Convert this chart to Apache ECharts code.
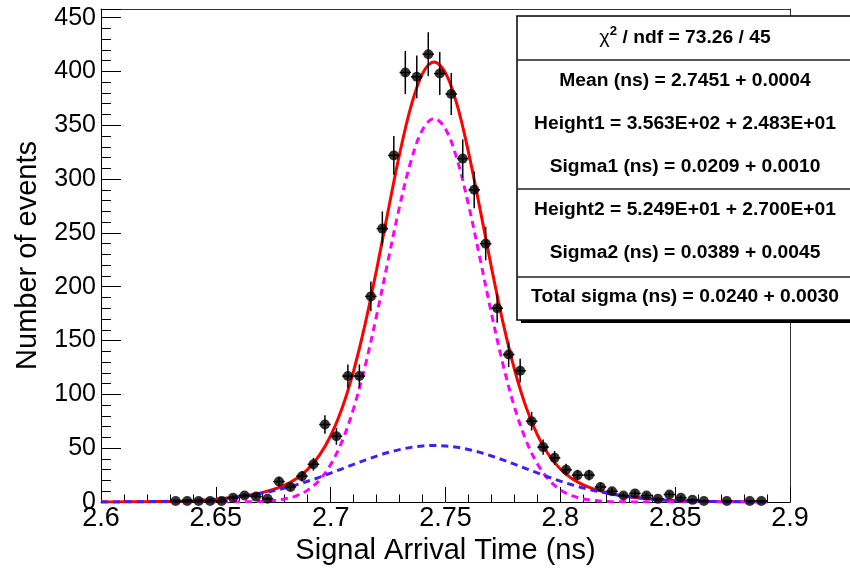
<!DOCTYPE html>
<html>
<head>
<meta charset="utf-8">
<script src="https://cdn.jsdelivr.net/npm/echarts@6/dist/echarts.min.js"></script>
<style>html,body{margin:0;padding:0;background:#fff}#c{width:850px;height:573px}</style>
</head>
<body>
<div id="c"></div>
<script>
// ---- histogram data (bin centres, counts, Poisson errors) ----
const binWidth = 0.005;
const binCenters = [2.6325,2.6375,2.6425,2.6475,2.6525,2.6575,2.6625,2.6675,2.6725,2.6775,
  2.6825,2.6875,2.6925,2.6975,2.7025,2.7075,2.7125,2.7175,2.7225,2.7275,
  2.7325,2.7375,2.7425,2.7475,2.7525,2.7575,2.7625,2.7675,2.7725,2.7775,
  2.7825,2.7875,2.7925,2.7975,2.8025,2.8075,2.8125,2.8175,2.8225,2.8275,
  2.8325,2.8375,2.8425,2.8475,2.8525,2.8575,2.8625,2.8725,2.8825,2.8875];
const counts = [1,1,1,1,1,4,6,5,3,19,
  14,24,35,72,61,117,117,191,254,322,
  399,395,416,398,379,319,290,240,180,137,
  122,75,51,41,30,25,25,14,10,6,
  8,6,3,7,4,2,1,1,1,1];
const countErrors = [1,1,1,1,1,2,2.45,2.24,1.73,4.36,
  3.74,4.90,5.92,8.49,7.81,10.82,10.82,13.82,15.94,17.94,
  19.97,19.87,20.40,19.95,19.47,17.86,17.03,15.49,13.42,11.70,
  11.05,8.66,7.14,6.40,5.48,5,5,3.74,3.16,2.45,
  2.83,2.45,1.73,2.65,2,1.41,1,1,1,1];

// ---- fit curves ----
const curveX = [2.600,2.605,2.610,2.615,2.620,2.625,2.630,2.635,2.640,2.645,
  2.650,2.655,2.660,2.665,2.670,2.675,2.680,2.685,2.690,2.695,
  2.700,2.705,2.710,2.715,2.720,2.725,2.730,2.735,2.740,2.745,
  2.750,2.755,2.760,2.765,2.770,2.775,2.780,2.785,2.790,2.795,
  2.800,2.805,2.810,2.815,2.820,2.825,2.830,2.835,2.840,2.845,
  2.850,2.855,2.860,2.865,2.870,2.875,2.880,2.885,2.890];
const totalFit = [0.05,0.08,0.13,0.20,0.30,0.45,0.66,0.96,1.36,1.92,
  2.66,3.62,4.89,6.53,8.70,11.63,15.73,21.62,30.28,43.04,
  61.54,87.40,121.91,165.21,215.83,270.33,323.18,367.75,397.94,408.79,
  398.67,369.32,325.08,272.56,217.96,167.17,123.46,88.60,62.42,43.66,
  30.70,21.90,15.92,11.78,8.80,6.61,4.94,3.66,2.69,1.94,
  1.38,0.97,0.67,0.45,0.30,0.20,0.13,0.08,0.05];
const gauss1 = [0,0,0,0,0,0,0,0,0,0,
  0.01,0.03,0.09,0.23,0.56,1.28,2.79,5.70,11.03,20.14,
  34.74,56.54,86.97,126.3,173.2,224.4,274.5,317.0,345.9,356.3,
  346.6,318.5,276.3,226.5,175.2,128.1,88.36,57.58,35.45,20.60,
  11.31,5.86,2.87,1.33,0.58,0.24,0.09,0.03,0.01,0,
  0,0,0,0,0,0,0,0,0];
const gauss2 = [0.05,0.08,0.13,0.20,0.30,0.45,0.66,0.96,1.36,1.92,
  2.65,3.59,4.80,6.30,8.14,10.35,12.94,15.92,19.25,22.90,
  26.80,30.86,34.94,38.91,42.63,45.93,48.68,50.75,52.04,52.49,
  52.07,50.82,48.78,46.06,42.76,39.07,35.10,31.02,26.97,23.06,
  19.39,16.04,13.05,10.45,8.22,6.37,4.85,3.63,2.68,1.94,
  1.38,0.97,0.67,0.45,0.30,0.20,0.13,0.08,0.05];

// ---- axes ----
const xMin = 2.6, xMax = 2.9, xStep = 0.05;
const yMin = 0, yMax = 458, yMajor = 50, yMinor = 10;
const xTitle = 'Signal Arrival Time (ns)';
const yTitle = 'Number of events';

// ---- fit statistics box ----
const statChi = '{g|χ}{s|2} / ndf = 73.26 / 45';
const statLines = [
  'Mean (ns) = 2.7451 + 0.0004',
  'Height1 = 3.563E+02 + 2.483E+01',
  'Sigma1 (ns) = 0.0209 + 0.0010',
  'Height2 = 5.249E+01 + 2.700E+01',
  'Sigma2 (ns) = 0.0389 + 0.0045',
  'Total sigma (ns) = 0.0240 + 0.0030'
];

const FONT = '"Liberation Sans", Arial, Helvetica, sans-serif';
const chart = echarts.init(document.getElementById('c'), null, {renderer: 'canvas'});

const zip = (a, b) => a.map((v, i) => [v, b[i]]);
const pointData = binCenters.map((x, i) => [x, counts[i], countErrors[i]]);

const boxX = 517, boxY = 16, boxW = 336, boxH = 304, cx = boxX + 168;
const rowY = [81, 124, 167, 210, 253, 297];
const graphics = [
  {type: 'rect', shape: {x: boxX + 4, y: boxY + 3, width: boxW, height: boxH}, style: {fill: '#000'}, z: 100},
  {type: 'rect', shape: {x: boxX, y: boxY, width: boxW, height: boxH}, style: {fill: '#fff', stroke: '#000', lineWidth: 1.5}, z: 101},
  {type: 'line', shape: {x1: boxX, y1: 60, x2: boxX + boxW, y2: 60}, style: {stroke: '#222', lineWidth: 1.3}, z: 102},
  {type: 'line', shape: {x1: boxX, y1: 189, x2: boxX + boxW, y2: 189}, style: {stroke: '#222', lineWidth: 1.3}, z: 102},
  {type: 'line', shape: {x1: boxX, y1: 277, x2: boxX + boxW, y2: 277}, style: {stroke: '#222', lineWidth: 1.3}, z: 102},
  {type: 'text', x: cx, y: 38, scaleX: 1.1, z: 103, style: {
    text: statChi, x: 0, y: 0, align: 'center', verticalAlign: 'middle',
    font: 'bold 17.5px ' + FONT, fill: '#000',
    rich: {g: {font: '18px ' + FONT, fill: '#000'}, s: {font: 'bold 12px ' + FONT, fill: '#000', verticalAlign: 'top', lineHeight: 24}}
  }}
];
statLines.forEach((t, i) => {
  graphics.push({type: 'text', x: cx, y: rowY[i], scaleX: 1.1, z: 103, style: {
    text: t, x: 0, y: 0, align: 'center', verticalAlign: 'middle',
    font: 'bold 17.5px ' + FONT, fill: '#000'
  }});
});

const axisCommonX = {type: 'value', min: xMin, max: xMax, interval: xStep, splitLine: {show: false}};
const axisCommonY = {type: 'value', min: yMin, max: yMax, splitLine: {show: false}};

chart.setOption({
  animation: false,
  backgroundColor: '#fff',
  grid: {left: 101, right: 60, top: 9, bottom: 71, containLabel: false, outerBoundsMode: 'none'},
  xAxis: [
    Object.assign({}, axisCommonX, {
      position: 'bottom',
      axisLine: {onZero: false, lineStyle: {color: '#000', width: 1}},
      axisTick: {inside: true, length: 15, lineStyle: {color: '#000', width: 1}},
      minorTick: {show: true, splitNumber: 5, length: 7.5, lineStyle: {color: '#000', width: 1}},
      axisLabel: {fontSize: 27, fontFamily: FONT, color: '#000', margin: 3,
        formatter: v => String(Math.round(v * 100) / 100)},
      name: xTitle, nameLocation: 'middle', nameGap: 33,
      nameTextStyle: {fontSize: 29, fontFamily: FONT, color: '#000'}
    }),
    Object.assign({}, axisCommonX, {
      position: 'top',
      axisLine: {onZero: false, lineStyle: {color: '#333', width: 1}},
      axisTick: {show: false}, axisLabel: {show: false}
    })
  ],
  yAxis: [
    Object.assign({}, axisCommonY, {
      position: 'left', interval: yMinor,
      axisLine: {onZero: false, lineStyle: {color: '#000', width: 1}},
      axisTick: {inside: true, length: 10, lineStyle: {color: '#000', width: 1}},
      axisLabel: {fontSize: 25, fontFamily: FONT, color: '#000', margin: 5,
        formatter: v => (v % yMajor === 0 ? String(v) : '')},
      name: yTitle, nameLocation: 'middle', nameGap: 59, nameRotate: 90,
      nameTextStyle: {fontSize: 29, fontFamily: FONT, color: '#000'}
    }),
    Object.assign({}, axisCommonY, {
      position: 'left', interval: yMajor,
      axisLine: {show: false, onZero: false},
      axisTick: {inside: true, length: 20, lineStyle: {color: '#000', width: 1}},
      axisLabel: {show: false}
    }),
    Object.assign({}, axisCommonY, {
      position: 'right', interval: yMajor,
      axisLine: {onZero: false, lineStyle: {color: '#333', width: 1}},
      axisTick: {show: false}, axisLabel: {show: false}
    })
  ],
  series: [
    {type: 'line', name: 'total', data: zip(curveX, totalFit), xAxisIndex: 0, yAxisIndex: 0,
      showSymbol: false, smooth: 0.35, lineStyle: {color: '#ff0000', width: 3}, z: 2},
    {type: 'line', name: 'g1', data: zip(curveX, gauss1), xAxisIndex: 0, yAxisIndex: 0,
      showSymbol: false, smooth: 0.35, lineStyle: {color: '#ff00ff', width: 3, type: [7, 5]}, z: 3},
    {type: 'line', name: 'g2', data: zip(curveX, gauss2), xAxisIndex: 0, yAxisIndex: 0,
      showSymbol: false, smooth: 0.35, lineStyle: {color: '#4020f0', width: 3, type: [7, 5]}, z: 4},
    {type: 'custom', name: 'errors', data: pointData, xAxisIndex: 0, yAxisIndex: 0, z: 5,
      encode: {x: 0, y: 1},
      renderItem: function (params, api) {
        const x = api.value(0), y = api.value(1), e = api.value(2);
        const c = api.coord([x, y]);
        const lo = api.coord([x, y - e]);
        const hi = api.coord([x, y + e]);
        const l = api.coord([x - binWidth / 2, y]);
        const r = api.coord([x + binWidth / 2, y]);
        return {type: 'group', children: [
          {type: 'line', shape: {x1: c[0], y1: lo[1], x2: c[0], y2: hi[1]}, style: {stroke: '#000', lineWidth: 1.5}},
          {type: 'line', shape: {x1: l[0], y1: c[1], x2: r[0], y2: c[1]}, style: {stroke: '#000', lineWidth: 1.5}}
        ]};
      }},
    {type: 'scatter', name: 'points', data: zip(binCenters, counts), xAxisIndex: 0, yAxisIndex: 0,
      symbol: 'circle', symbolSize: 10, itemStyle: {color: '#000'}, z: 6}
  ],
  graphic: graphics
});
</script>
</body>
</html>
